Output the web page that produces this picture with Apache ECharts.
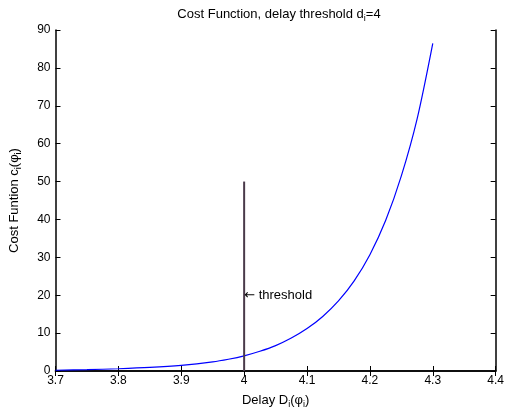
<!DOCTYPE html>
<html>
<head>
<meta charset="utf-8">
<script src="https://cdn.jsdelivr.net/npm/echarts@6/dist/echarts.min.js"></script>
<style>
html, body { margin: 0; padding: 0; background: #fff; }
#chart { width: 507px; height: 417px; }
</style>
</head>
<body>
<div id="chart"></div>
<script>
// 数据
let delay = [3.70, 3.75, 3.80, 3.85, 3.90, 3.95, 3.975, 4.00, 4.025, 4.05, 4.075, 4.10, 4.125, 4.15, 4.175, 4.20, 4.225, 4.25, 4.275, 4.30];
let cost = [0.2, 0.35, 0.6, 0.95, 1.5, 2.4, 3.1, 4.0, 5.2, 6.7, 8.7, 11.2, 14.4, 18.5, 23.8, 30.7, 39.7, 51.5, 66.5, 86.5];
let thresholdX = [4, 4];
let thresholdY = [0, 50];
let annotation = { x: 4, y: 20, arrow: '\u2190', text: ' threshold' };

let font = 'Liberation Sans, Arial, sans-serif';
let myChart = echarts.init(document.getElementById('chart'));

let subRich = {
    a: { fontFamily: font, fontSize: 13, fontWeight: 'normal', color: '#000' },
    s: { fontFamily: font, fontSize: 9, fontWeight: 'normal', color: '#000', padding: [9, 0, 0, 0] },
    arr: { fontFamily: 'DejaVu Sans', fontSize: 13, color: '#000' }
};

let axisLine = { show: true, lineStyle: { color: '#000', width: 1.5 } };
let tick = { show: true, inside: true, length: 5, lineStyle: { color: '#000' } };

let option = {
    animation: false,
    backgroundColor: '#fff',
    title: {
        text: '{a|Cost Function, delay threshold d}{s|i}{a|=4}',
        left: 274,
        textAlign: 'center',
        top: 0,
        textStyle: { fontWeight: 'normal', rich: subRich }
    },
    grid: { left: 51, right: 9, top: 30, bottom: 46 },
    xAxis: [{
        type: 'value',
        position: 'bottom',
        min: 3.7,
        max: 4.4,
        interval: 0.1,
        axisLine: axisLine,
        axisTick: tick,
        splitLine: { show: false },
        axisLabel: {
            color: '#000', fontFamily: font, fontSize: 12, margin: 4,
            formatter: v => String(+v.toFixed(1))
        },
        name: '{a|Delay D}{s|i}{a|(\u03c6}{s|i}{a|)}',
        nameLocation: 'middle',
        nameGap: 20,
        nameTextStyle: { rich: subRich }
    }, {
        type: 'value',
        position: 'top',
        min: 3.7,
        max: 4.4,
        interval: 0.1,
        axisLine: axisLine,
        axisTick: tick,
        splitLine: { show: false },
        axisLabel: { show: false }
    }],
    yAxis: [{
        type: 'value',
        position: 'left',
        min: 0,
        max: 90,
        interval: 10,
        axisLine: axisLine,
        axisTick: tick,
        splitLine: { show: false },
        axisLabel: { color: '#000', fontFamily: font, fontSize: 12, margin: 5 },
        name: '{a|Cost Funtion c}{s|i}{a|(\u03c6}{s|i}{a|)}',
        nameLocation: 'middle',
        nameRotate: 90,
        nameGap: 32,
        nameTextStyle: { rich: subRich }
    }, {
        type: 'value',
        position: 'right',
        min: 0,
        max: 90,
        interval: 10,
        axisLine: axisLine,
        axisTick: tick,
        splitLine: { show: false },
        axisLabel: { show: false }
    }],
    series: [{
        name: 'cost',
        type: 'line',
        data: delay.map((d, i) => [d, cost[i]]),
        smooth: 0.3,
        showSymbol: false,
        lineStyle: { color: '#0000ff', width: 1.2 },
        z: 3
    }, {
        name: 'threshold',
        type: 'line',
        data: thresholdX.map((d, i) => [d, thresholdY[i]]),
        showSymbol: false,
        lineStyle: { color: '#4a3a4a', width: 2 },
        z: 4,
        markPoint: {
            symbol: 'circle',
            symbolSize: 0,
            data: [{ coord: [annotation.x, annotation.y] }],
            label: {
                show: true,
                position: 'right',
                distance: 0,
                formatter: '{arr|' + annotation.arrow + '}{a|' + annotation.text + '}',
                rich: subRich
            }
        }
    }]
};

myChart.setOption(option);
</script>
</body>
</html>
